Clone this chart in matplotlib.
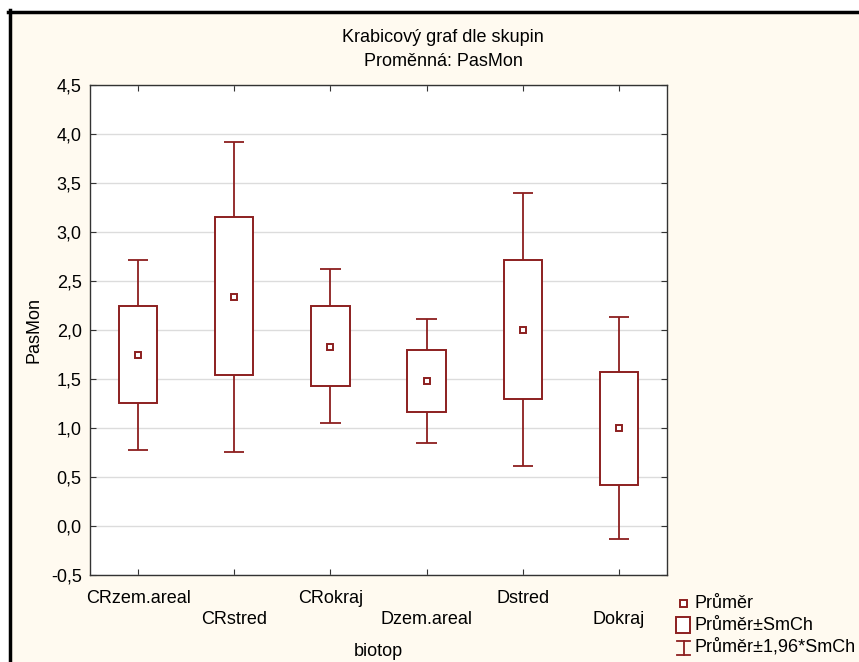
import matplotlib.pyplot as plt
from matplotlib.patches import Rectangle
from matplotlib.lines import Line2D

plt.rcParams['font.family'] = ['Liberation Sans', 'DejaVu Sans']

groups = ['CRzem.areal', 'CRstred', 'CRokraj', 'Dzem.areal', 'Dstred', 'Dokraj']
mean = [1.74, 2.34, 1.83, 1.48, 2.00, 1.00]
se_lo = [1.26, 1.54, 1.43, 1.16, 1.30, 0.42]
se_hi = [2.24, 3.15, 2.25, 1.80, 2.71, 1.57]
ci_lo = [0.78, 0.76, 1.05, 0.85, 0.61, -0.13]
ci_hi = [2.71, 3.92, 2.62, 2.11, 3.40, 2.13]
yticks = [-0.5, 0.0, 0.5, 1.0, 1.5, 2.0, 2.5, 3.0, 3.5, 4.0, 4.5]

red = '#8c1f1f'
cream = '#fffaf0'
W, H = 859, 662
fs = 13

fig = plt.figure(figsize=(W / 100, H / 100), dpi=100, facecolor='white')

# window frame + cream panel
fig.patches.append(Rectangle((11 / W, 0), 1, 1 - 13 / H, transform=fig.transFigure,
                             facecolor=cream, edgecolor='none', zorder=-5))
fig.add_artist(Line2D([8 / W, 1], [1 - 11.5 / H] * 2, color='black', lw=2.5))
fig.add_artist(Line2D([9.5 / W] * 2, [0, 1 - 10 / H], color='black', lw=2.5))

ax = fig.add_axes([90 / W, 1 - 575 / H, 577 / W, 490 / H])
ax.set_facecolor('white')
x = list(range(1, len(groups) + 1))

ax.vlines(x, ci_lo, se_lo, color=red, lw=1.3, zorder=3)
ax.vlines(x, se_hi, ci_hi, color=red, lw=1.3, zorder=3)
ax.hlines(ci_lo, [v - 0.105 for v in x], [v + 0.105 for v in x], color=red, lw=1.3, zorder=3)
ax.hlines(ci_hi, [v - 0.105 for v in x], [v + 0.105 for v in x], color=red, lw=1.3, zorder=3)
ax.bar(x, [h - l for h, l in zip(se_hi, se_lo)], bottom=se_lo, width=0.4,
       facecolor='white', edgecolor=red, lw=1.4, zorder=3)
ax.plot(x, mean, 's', ms=5, mfc='white', mec=red, mew=1.4, zorder=4)

ax.set_xlim(0.5, 6.5)
ax.set_ylim(-0.5, 4.5)
ax.set_yticks(yticks)
ax.set_yticklabels([f'{v:.1f}'.replace('.', ',') for v in yticks])
ax.set_xticks(x)
ax.set_xticklabels([g if i % 2 == 0 else '\n' + g for i, g in enumerate(groups)],
                   linespacing=1.25)
ax.grid(axis='y', color='#dcdcdc', lw=1)
ax.set_axisbelow(True)
ax.tick_params(direction='in', top=True, right=True, length=4, labelsize=fs,
               color='#333333')
ax.tick_params(axis='x', pad=11)
ax.tick_params(axis='y', pad=6)
for s in ax.spines.values():
    s.set_color('#333333')
    s.set_linewidth(1)

ax.set_xlabel('biotop', fontsize=fs, labelpad=11)
ax.set_ylabel('PasMon', fontsize=fs, labelpad=6)

fig.text(443 / W, 1 - 38 / H, 'Krabicový graf dle skupin', ha='center', va='center', fontsize=fs)
fig.text(443 / W, 1 - 62 / H, 'Proměnná: PasMon', ha='center', va='center', fontsize=fs)

# legend
fig.patches.append(Rectangle((680 / W, 1 - 606.5 / H), 7 / W, 7 / H, transform=fig.transFigure,
                             facecolor='white', edgecolor=red, lw=1.4))
fig.patches.append(Rectangle((676 / W, 1 - 633 / H), 14 / W, 16 / H, transform=fig.transFigure,
                             facecolor='white', edgecolor=red, lw=1.4))
fig.add_artist(Line2D([683.5 / W] * 2, [1 - 641 / H, 1 - 655 / H], color=red, lw=1.3))
fig.add_artist(Line2D([677 / W, 690 / W], [1 - 641 / H] * 2, color=red, lw=1.3))
fig.add_artist(Line2D([677 / W, 690 / W], [1 - 655 / H] * 2, color=red, lw=1.3))
for yy, t in zip([603, 625, 647], ['Průměr', 'Průměr±SmCh', 'Průměr±1,96*SmCh']):
    fig.text(695 / W, 1 - yy / H, t, ha='left', va='center', fontsize=fs)

fig.savefig('out.png', dpi=100, facecolor=fig.get_facecolor())
